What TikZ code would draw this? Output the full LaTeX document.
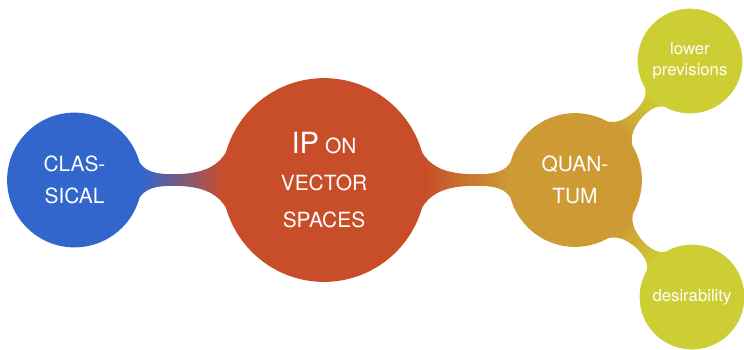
\documentclass[tikz,border=0pt]{standalone}
\usepackage{fontspec}
\setmainfont{TeX Gyre Heros}
\usetikzlibrary{mindmap,backgrounds}

\definecolor{classblue}{RGB}{51,102,204}
\definecolor{ipred}{RGB}{200,78,42}
\definecolor{quantorange}{RGB}{206,154,52}
\definecolor{leafyellow}{RGB}{205,205,52}

\begin{document}
\begin{tikzpicture}[x=0.2mm, y=-0.2mm, line cap=round, line join=round,
    idea/.style={circle, inner sep=0pt, outer sep=0pt, line width=1pt, text=white, align=center},
    bigcaps/.style={font=\fontsize{11.9}{18}\selectfont},
    leaf/.style={idea, fill=leafyellow, draw=leafyellow, minimum size=2.06cm, font=\fontsize{9.5}{11.7}\selectfont}]
    \useasboundingbox (0,0) rectangle (744,349);

    \node[idea, fill=ipred, draw=ipred, minimum size=4.04cm, font=\fontsize{11.9}{21.2}\selectfont] (ipvs) at (324,180)
        {{\fontsize{16.6}{21.2}\selectfont IP} ON\\VECTOR\\SPACES};
    \node[idea, bigcaps, fill=classblue, draw=classblue, minimum size=2.66cm] (classical) at (74.5,180) {CLAS-\\SICAL};
    \node[idea, bigcaps, fill=quantorange, draw=quantorange, minimum size=2.64cm] (quantum) at (575,180) {QUAN-\\TUM};
    \node[leaf] (lowprev) at (690,61) {lower\\previsions};
    \node[leaf] (desir) at (692,297) {desirability};

    % connection bars
    \begin{pgfonlayer}{background}
        \path[line width=0.24cm] (classical) to[circle connection bar switch color=from (classblue) to (ipred)] (ipvs);
        \path[line width=0.22cm] (ipvs) to[circle connection bar switch color=from (ipred) to (quantorange)] (quantum);
        \path[line width=0.17cm] (quantum) to[circle connection bar switch color=from (quantorange) to (leafyellow)] (lowprev);
        \path[line width=0.17cm] (quantum) to[circle connection bar switch color=from (quantorange) to (leafyellow)] (desir);
    \end{pgfonlayer}
\end{tikzpicture}
\end{document}
